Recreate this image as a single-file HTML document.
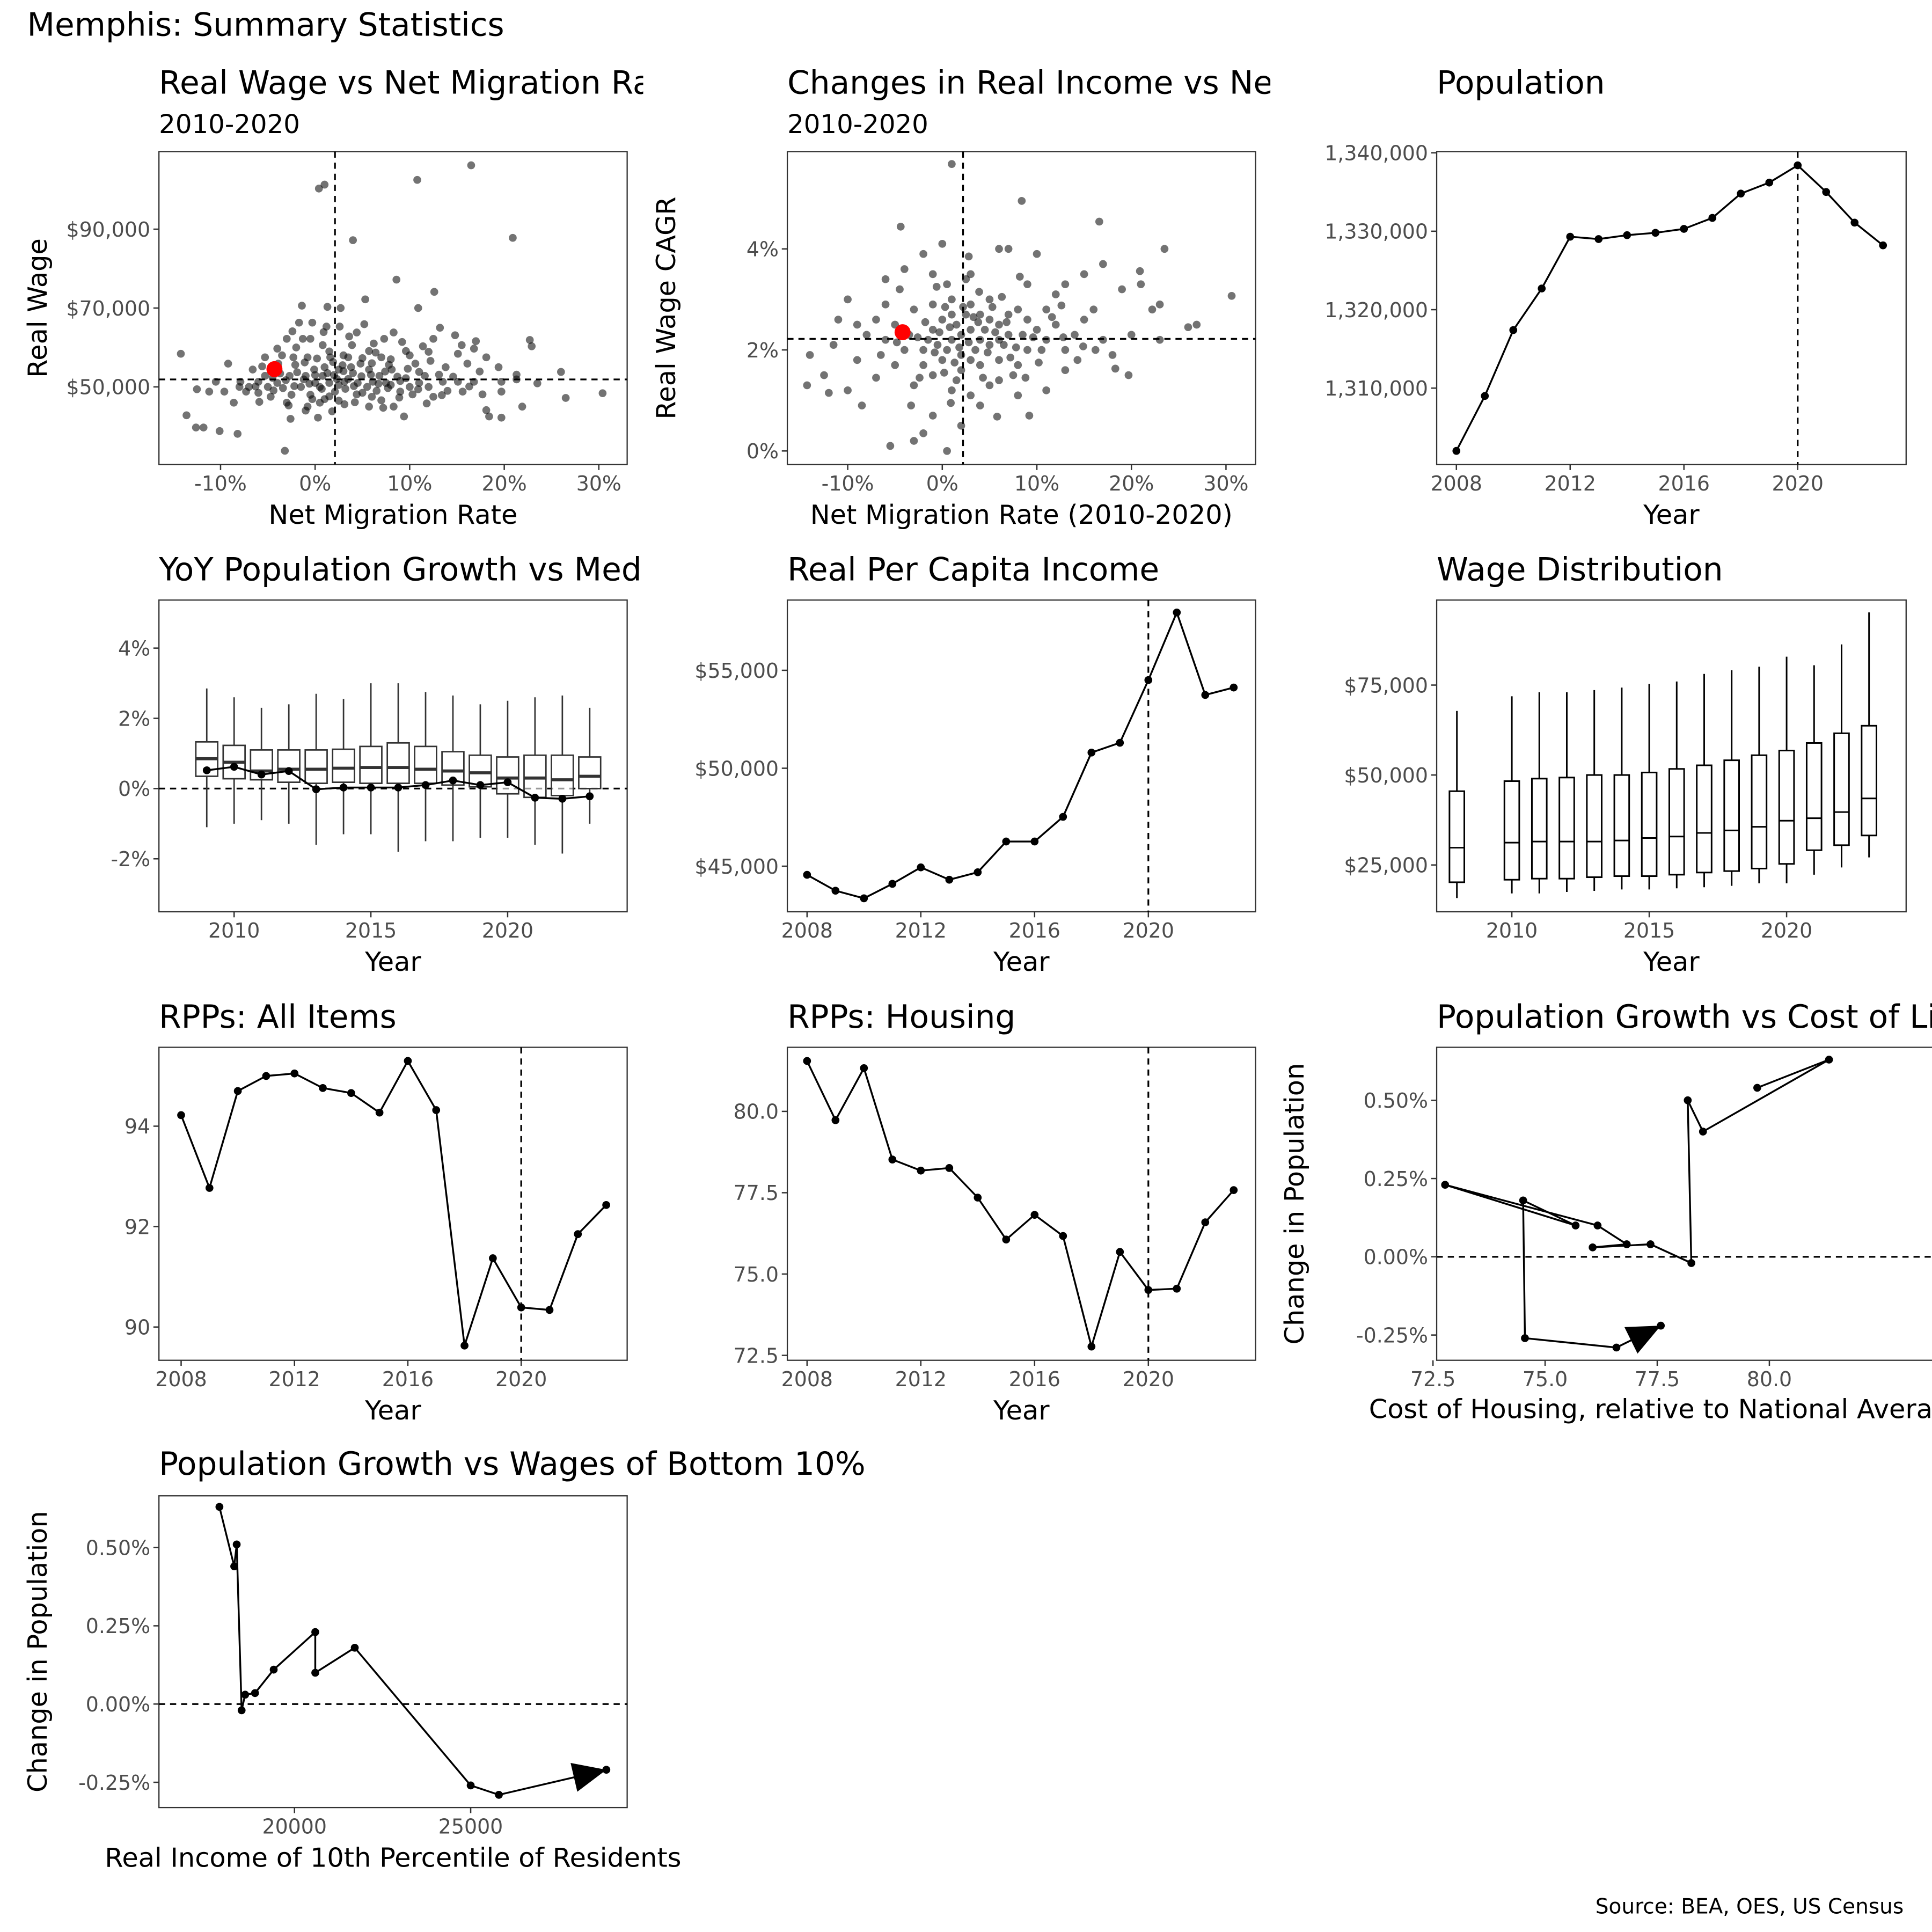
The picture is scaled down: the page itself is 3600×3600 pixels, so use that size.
<!DOCTYPE html>
<html><head><meta charset="utf-8">
<style>
html,body{margin:0;padding:0;background:#fff;}
svg{display:block;}
text{font-family:"DejaVu Sans","Liberation Sans",sans-serif;}
</style></head>
<body>
<svg id="chart" width="3600" height="3600" viewBox="0 0 1568 1568" xmlns="http://www.w3.org/2000/svg">
<defs>
<clipPath id="clipT1"><rect x="0" y="40" width="522" height="80"/></clipPath>
<clipPath id="clipT2"><rect x="530" y="40" width="501" height="80"/></clipPath>
<clipPath id="clipT4"><rect x="0" y="440" width="522" height="47"/></clipPath>
</defs>
<rect x="0" y="0" width="1568" height="1568" fill="#fff"/>
<text x="22" y="29" font-size="26" fill="#000">Memphis: Summary Statistics</text>
<text x="1545" y="1553" font-size="17" fill="#000" text-anchor="end">Source: BEA, OES, US Census</text>
</svg>
<script>
// ---------- DATA ----------
const years = [2008,2009,2010,2011,2012,2013,2014,2015,2016,2017,2018,2019,2020,2021,2022,2023];
const population = [1302000,1309000,1317400,1322700,1329300,1329000,1329500,1329800,1330300,1331700,1334800,1336200,1338400,1335000,1331100,1328200];
const perCapitaIncome = [44560,43750,43360,44100,44940,44310,44690,46260,46260,47520,50800,51300,54500,57950,53740,54120];
const rppAll = [94.22,92.77,94.70,95.00,95.05,94.76,94.66,94.27,95.30,94.32,89.63,91.37,90.39,90.34,91.85,92.43];
const rppHousing = [81.55,79.73,81.33,78.52,78.18,78.26,77.35,76.06,76.82,76.17,72.77,75.68,74.51,74.55,76.59,77.58];

const yoyYears = [2009,2010,2011,2012,2013,2014,2015,2016,2017,2018,2019,2020,2021,2022,2023];
const yoyLow = [-1.1,-1.0,-0.9,-1.0,-1.6,-1.3,-1.3,-1.8,-1.5,-1.5,-1.4,-1.4,-1.6,-1.85,-1.0];
const yoyQ1 = [0.35,0.28,0.25,0.18,0.15,0.18,0.15,0.15,0.15,0.10,0.05,-0.15,-0.25,-0.20,0.0];
const yoyMed = [0.85,0.75,0.50,0.55,0.55,0.58,0.60,0.60,0.55,0.50,0.45,0.30,0.30,0.25,0.35];
const yoyQ3 = [1.33,1.23,1.10,1.10,1.10,1.12,1.20,1.30,1.20,1.05,0.95,0.90,0.95,0.95,0.90];
const yoyHigh = [2.85,2.60,2.30,2.40,2.70,2.55,3.00,3.00,2.75,2.65,2.40,2.50,2.60,2.65,2.30];
const yoyMemphis = [0.52,0.62,0.40,0.50,-0.02,0.03,0.03,0.03,0.10,0.23,0.10,0.18,-0.26,-0.29,-0.22];

const wageYears = [2008,2010,2011,2012,2013,2014,2015,2016,2017,2018,2019,2020,2021,2022,2023];
const wageLow = [15.8,17.1,17.1,17.5,17.8,18.2,18.2,18.5,18.8,19.2,19.9,19.9,22.3,24.3,27.1];
const wageQ1 = [20.2,20.9,21.2,21.2,21.6,21.9,21.9,22.3,22.9,23.3,24.0,25.3,29.1,30.5,33.2];
const wageMed = [29.8,31.2,31.5,31.5,31.5,31.8,32.5,32.9,33.9,34.6,35.6,37.3,38.0,39.7,43.5];
const wageQ3 = [45.5,48.3,49.0,49.3,50.0,50.0,50.7,51.7,52.7,54.1,55.5,56.8,58.9,61.6,63.7];
const wageHigh = [67.8,71.9,73.0,73.0,73.6,74.3,75.3,76.0,78.1,79.1,80.1,82.9,80.5,86.3,95.2];

const costHousing = [79.73,81.33,78.52,78.18,78.26,77.35,76.06,76.82,76.17,72.77,75.68,74.51,74.55,76.59,77.58];
const popGrowth9 = [0.54,0.63,0.40,0.50,-0.02,0.04,0.03,0.04,0.10,0.23,0.10,0.18,-0.26,-0.29,-0.22];

const income10 = [17870,18290,18360,18500,18600,18880,19410,20590,20590,21710,25000,25800,28850];
const popGrowth10 = [0.63,0.44,0.51,-0.02,0.03,0.035,0.11,0.23,0.10,0.18,-0.26,-0.29,-0.21];

const p1Points = [[0.4,100.3],[1.0,101.3],[16.5,106.2],[10.8,102.5],[4.0,87.2],[20.9,87.8],[8.6,77.2],[12.6,74.1],[5.3,72.2],[1.3,70.3],[10.9,70],[22.7,61.9],[22.9,60.3],[-14.2,58.4],[30.4,48.4],[26.5,47.2],[26.0,53.8],[23.5,50.9],[18.4,42.5],[18.1,44.1],[-13.6,42.8],[-12.6,39.7],[-11.8,39.7],[-10.1,38.8],[-8.2,38.1],[-3.2,33.8],[-2.6,41.9],[19.7,42.2],[21.3,53.1],[17.0,61.6],[15.1,58.4],[16.1,55.9],[13.2,65],[14.8,63.1],[16.8,59.7],[11.4,60.3],[12.5,62.2],[15.6,48.8],[10.9,49.4],[8.1,54.4],[9.6,52.2],[7.0,57.5],[6.1,51.3],[4.4,63.8],[5.2,65.9],[2.6,65.3],[3.9,60.6],[2.5,54.4],[1.0,46.9],[-0.8,45],[-2.1,55.6],[-3.4,49.7],[-4.7,47.5],[-6.0,51.3],[-7.3,48.8],[-8.6,46],[-9.6,48.8],[-10.5,51.3],[-6.6,54.4],[-5.3,57.5],[-4.0,59.7],[-1.3,62.2],[-1.7,66.3],[-1.4,70.6],[-0.3,66.3],[0.8,60.6],[1.6,57.5],[3.1,51.3],[4.4,48.1],[5.7,45],[7.0,46.6],[8.3,45],[9.4,42.5],[10.3,48.1],[11.6,52.8],[12.5,47.5],[13.5,51.3],[15.1,51.3],[16.8,51.3],[17.7,48.1],[19.4,55],[19.7,48.8],[21.3,51.9],[21.9,45],[3.1,45.6],[1.8,43.8],[0.3,42.2],[-1,52.8],[-2.7,52.8],[-3.9,55.9],[-5.3,52.8],[-7.9,51.3],[-9.2,55.9],[-11.2,48.8],[-12.5,49.4],[-3,62.2],[-2.3,57.5],[-0.8,57.5],[-0.1,54.4],[0.8,52.8],[2.1,48.8],[3.5,57.5],[4.8,55.9],[5.7,54.4],[6.8,52.8],[7.7,49.7],[9.0,48.8],[10.6,55.9],[12.2,56.6],[13.8,55],[15.5,60.6],[18.1,57.5],[19.7,51.3],[5.7,59.1],[7.3,62.2],[8.3,63.8],[9.6,59.1],[1.2,65.3],[2.7,70],[-0.5,62.2],[0.5,50],[1.5,51],[2.5,50.5],[3.5,52],[4.5,51],[5.5,50],[6.5,49],[7.5,51],[-1.5,50],[-2.5,48],[-0.5,48],[0,53],[1,55],[2,53],[3,54],[4,53.5],[5,48.5],[6,47.5],[8,50.5],[9,51.5],[10,50],[11,51],[12,50],[14,49],[-4,51],[-5,50],[-6,48.5],[-7,50],[-8,50],[-3,46],[-1,44],[0.5,46],[2.5,46.5],[6,56],[8,57],[10,58],[-2,60],[-3.5,58],[1.5,59],[3,58],[0,51],[0.7,49.5],[1.3,53.5],[2.3,52],[3.2,49.5],[4.1,50.2],[4.9,52.7],[5.9,53.1],[6.7,50.8],[7.4,53.9],[8.7,52.6],[9.8,54.6],[11.0,53.8],[13.1,53.1],[-0.6,50.8],[-1.2,51.9],[-1.9,53.7],[-2.2,50.2],[-3.1,51.7],[-3.7,53.4],[-4.5,52.3],[-5.6,55.2],[-6.3,50.1],[-1.1,56.2],[0.2,57.2],[1.9,56.3],[2.9,55.5],[3.8,55.0],[5.0,57.3],[6.4,58.7],[7.8,55.6],[8.9,47.3],[7.2,44.7],[4.2,46.1],[1.5,47.6],[-0.3,46.9],[-2.8,45.3],[-4.4,49.1],[-5.9,46.2],[11.8,45.8],[13.4,47.9],[14.6,52.6],[16.3,50.1],[17.4,53.9],[12.0,58.9],[9.2,61.4],[6.2,61.0],[3.6,62.8],[0.9,63.9],[-2.4,64.1]];
const p1Memphis = [-4.3,54.5];

const p2Points = [[1.0,5.68],[8.4,4.95],[-4.4,4.44],[16.6,4.54],[30.6,3.07],[23.5,4.0],[0.5,0.0],[-5.5,0.1],[-3,0.2],[5.8,0.68],[9.2,0.7],[-14.3,1.3],[-12,1.15],[-10,1.2],[26.9,2.5],[26,2.45],[19.7,1.5],[18.3,1.63],[14.9,2.07],[20.9,3.56],[22.2,2.8],[12.6,2.88],[21,3.3],[-1,0.7],[-2,0.35],[2,0.5],[4,0.9],[-7,1.45],[-11.5,2.1],[-9,1.8],[-12.5,1.5],[-14,1.9],[-4,3.6],[-2,3.9],[-4.5,3.2],[-6,2.9],[0,4.1],[3,3.5],[6,4.0],[7,4.0],[10,3.9],[12,3.1],[13,3.3],[15,3.5],[17,3.7],[16,2.8],[19,3.2],[20,2.3],[23,2.9],[23,2.2],[11,1.2],[13,1.6],[8,1.1],[6,1.4],[3,1.1],[1,1.2],[-1,1.5],[-3,1.3],[-5,1.7],[-6.5,1.9],[-8,2.3],[-2,2.0],[-1,2.4],[0,2.6],[1,2.2],[2,1.9],[3,2.4],[4,2.7],[5,2.1],[6,2.5],[7,2.3],[8,2.8],[9,2.0],[10,2.4],[11,2.2],[-3,2.8],[-1,2.9],[1,3.0],[3,2.9],[5,3.0],[7,2.7],[9,2.6],[0,1.8],[2,1.6],[4,1.7],[6,1.8],[8,1.7],[-2,1.7],[-4,2.0],[-5,2.5],[1,2.7],[2,2.3],[4,2.2],[5,2.6],[-0.5,2.1],[3.5,2.0],[6.5,2.1],[12,2.5],[14,2.3],[15,2.6],[17,2.2],[18,1.9],[-7,2.6],[-9,2.5],[-10,3.0],[-6,3.4],[0.5,3.3],[2.5,3.4],[9,3.3],[11,2.8],[13,2.0],[7.5,1.5],[5,1.3],[1.5,1.4],[-1.5,2.2],[0.5,2.0],[2.5,2.7],[4.5,2.4],[6,2.2],[8.5,2.3],[10.5,2.0],[-3.5,2.3],[1.5,2.5],[3,1.8],[-0.3,2.35],[0.8,2.45],[1.8,2.05],[2.8,2.15],[3.8,2.55],[4.8,1.95],[5.6,2.35],[6.8,2.55],[7.8,2.05],[9.6,2.25],[-1.8,2.55],[-2.6,2.25],[-0.8,1.95],[0.3,2.85],[1.3,1.75],[2.2,2.85],[3.3,2.65],[4.3,1.45],[5.3,2.85],[7.2,1.85],[8.8,1.45],[10.2,1.75],[11.6,2.65],[12.8,2.25],[-4.8,2.15],[-6,2.2],[-2.4,1.45],[0.2,1.55],[3.9,3.15],[6.3,3.05],[8.2,3.45],[-0.6,3.25],[14.3,1.8],[16.2,2.0],[-3.3,0.9],[0.9,0.95],[-8.5,0.9],[-11,2.6],[-1,3.5],[2.8,3.85]];
const p2Memphis = [-4.2,2.35];

const p1XTicks = [-10,0,10,20,30];
const p1YTicks = [50,70,90];
const p2XTicks = [-10,0,10,20,30];
const p2YTicks = [0,2,4];
const p3XTicks = [2008,2012,2016,2020];
const p3YTicks = [1310000,1320000,1330000,1340000];
const p4XTicks = [2010,2015,2020];
const p4YTicks = [-2,0,2,4];
const p5XTicks = [2008,2012,2016,2020];
const p5YTicks = [45000,50000,55000];
const p6XTicks = [2010,2015,2020];
const p6YTicks = [25,50,75];
const p7XTicks = [2008,2012,2016,2020];
const p7YTicks = [90,92,94];
const p8XTicks = [2008,2012,2016,2020];
const p8YTicks = [72.5,75.0,77.5,80.0];
const p9XTicks = [72.5,75.0,77.5,80.0];
const p9YTicks = [-0.25,0,0.25,0.5];
const p10XTicks = [20000,25000];
const p10YTicks = [-0.25,0,0.25,0.5];

// ---------- HELPERS ----------
const NS = "http://www.w3.org/2000/svg";
const svg = document.getElementById('chart');
const TICK_FS = 16.5, AXIS_FS = 21.5, TITLE_FS = 26, SUB_FS = 21;
function mk(tag, attrs, parent){
  const e = document.createElementNS(NS, tag);
  for (const k in attrs) e.setAttribute(k, attrs[k]);
  (parent || svg).appendChild(e);
  return e;
}
function lin(d0,r0,d1,r1){ return v => r0 + (v-d0)*(r1-r0)/(d1-d0); }
const fmtComma = v => Math.round(v).toLocaleString('en-US');
const fmtDollar = v => '$' + fmtComma(v);
const fmtPct0 = v => v + '%';
const fmtPct2 = v => v.toFixed(2) + '%';

function panel(name, r, xs, ys, xt, yt, xf, yf, title, sub, xlab, ylab, clip){
  const g = mk('g', {});
  
  
  const bg = mk('rect', {x:r.x, y:r.y, width:r.w, height:r.h, fill:'#fff', stroke:'#333', 'stroke-width':1}, g);
  
  
  const tg = mk('g', clip ? {'clip-path':'url(#'+clip+')'} : {}, g);
  const t = mk('text', {x:r.x, y:r.ty, 'font-size':TITLE_FS, fill:'#000'}, tg);
  t.textContent = title;
  
  
  if (sub) {
    const s = mk('text', {x:r.x, y:r.y-15, 'font-size':SUB_FS, fill:'#000'}, g);
    s.textContent = sub;
    
    
  }
  xt.forEach(v => {
    const px = xs(v);
    const tk = mk('line', {x1:px, x2:px, y1:r.y+r.h, y2:r.y+r.h+4.5, stroke:'#333', 'stroke-width':1.1}, g);
    
    
    const tl = mk('text', {x:px, y:r.y+r.h+21, 'font-size':TICK_FS, fill:'#4d4d4d', 'text-anchor':'middle'}, g);
    tl.textContent = xf(v);
    
    
  });
  yt.forEach(v => {
    const py = ys(v);
    const tk = mk('line', {x1:r.x-4.5, x2:r.x, y1:py, y2:py, stroke:'#333', 'stroke-width':1.1}, g);
    
    
    const tl = mk('text', {x:r.x-7, y:py+6, 'font-size':TICK_FS, fill:'#4d4d4d', 'text-anchor':'end'}, g);
    tl.textContent = yf(v);
    
    
  });
  if (xlab) {
    const xl = mk('text', {x:r.x+r.w/2, y:r.y+r.h+48, 'font-size':AXIS_FS, fill:'#000', 'text-anchor':'middle'}, g);
    xl.textContent = xlab;
    
    
  }
  if (ylab) {
    const cx = r.yl, cy = r.y + r.h/2;
    const yl = mk('text', {x:cx, y:cy, 'font-size':AXIS_FS, fill:'#000', 'text-anchor':'middle', transform:'rotate(-90 '+cx+' '+cy+')'}, g);
    yl.textContent = ylab;
    
    
  }
  return g;
}
function dashV(g, r, px){
  const l = mk('line', {x1:px, x2:px, y1:r.y, y2:r.y+r.h, stroke:'#000', 'stroke-width':1.4, 'stroke-dasharray':'5,4'}, g);
  
  
}
function dashH(g, r, py){
  const l = mk('line', {x1:r.x, x2:r.x+r.w, y1:py, y2:py, stroke:'#000', 'stroke-width':1.4, 'stroke-dasharray':'5,4'}, g);
  
  
}
function lineSeries(g, xsArr, ysArr, xs, ys, name, arrow){
  const d = xsArr.map((v,i) => (i?'L':'M') + xs(v).toFixed(2) + ',' + ys(ysArr[i]).toFixed(2)).join(' ');
  const p = mk('path', {d:d, fill:'none', stroke:'#000', 'stroke-width':1.5}, g);
  
  
  xsArr.forEach((v,i) => {
    const c = mk('circle', {cx:xs(v), cy:ys(ysArr[i]), r:3.2, fill:'#000'}, g);
    
    
  });
  if (arrow) {
    const n = xsArr.length;
    const x0 = xs(xsArr[n-2]), y0 = ys(ysArr[n-2]), x1 = xs(xsArr[n-1]), y1 = ys(ysArr[n-1]);
    const len = Math.hypot(x1-x0, y1-y0), ux = (x1-x0)/len, uy = (y1-y0)/len;
    const L = 27, W = 12;
    const bx = x1 - ux*L, by = y1 - uy*L;
    const tri = mk('polygon', {points: x1+','+y1+' '+(bx - uy*W)+','+(by + ux*W)+' '+(bx + uy*W)+','+(by - ux*W), fill:'#000'}, g);
    
    
  }
}

// ---------- PANEL 1 ----------
{
  const r = {x:129, y:123, w:380, h:254, yl:38, ty:76};
  const xs = lin(-10,179,30,486), ys = lin(50,314,90,186);
  const g = panel('real-wage-vs-migration', r, xs, ys, p1XTicks, p1YTicks, fmtPct0, v=>fmtDollar(v*1000), 'Real Wage vs Net Migration Rate', '2010-2020', 'Net Migration Rate', 'Real Wage', 'clipT1');
  p1Points.forEach(p => {
    const c = mk('circle', {cx:xs(p[0]), cy:ys(p[1]), r:3.2, fill:'#000', 'fill-opacity':0.55}, g);
    
    
  });
  dashV(g, r, xs(2.1)); dashH(g, r, ys(51.9));
  const m = mk('circle', {cx:xs(p1Memphis[0]), cy:ys(p1Memphis[1]), r:6.5, fill:'#ff0000'}, g);
  
  
}
// ---------- PANEL 2 ----------
{
  const r = {x:639, y:123, w:380, h:254, yl:548, ty:76};
  const xs = lin(-10,688,30,995), ys = lin(0,366,4,202);
  const g = panel('real-income-change-vs-migration', r, xs, ys, p2XTicks, p2YTicks, fmtPct0, fmtPct0, 'Changes in Real Income vs Net Migration', '2010-2020', 'Net Migration Rate (2010-2020)', 'Real Wage CAGR', 'clipT2');
  p2Points.forEach(p => {
    const c = mk('circle', {cx:xs(p[0]), cy:ys(p[1]), r:3.2, fill:'#000', 'fill-opacity':0.55}, g);
    
    
  });
  dashV(g, r, xs(2.2)); dashH(g, r, ys(2.22));
  const m = mk('circle', {cx:xs(p2Memphis[0]), cy:ys(p2Memphis[1]), r:6.5, fill:'#ff0000'}, g);
  
  
}
// ---------- PANEL 3 ----------
{
  const r = {x:1166, y:123, w:381, h:254, ty:76};
  const xs = lin(2008,1182,2020,1459), ys = lin(1310000,315,1340000,124);
  const g = panel('population', r, xs, ys, p3XTicks, p3YTicks, String, fmtComma, 'Population', null, 'Year', null);
  dashV(g, r, xs(2020));
  lineSeries(g, years, population, xs, ys, 'population');
}
// ---------- PANEL 4 ----------
{
  const r = {x:129, y:487, w:380, h:253, ty:471};
  const xs = lin(2010,190,2020,412), ys = lin(0,640,4,526);
  const g = panel('yoy-population-growth', r, xs, ys, p4XTicks, p4YTicks, String, fmtPct0, 'YoY Population Growth vs Median', null, 'Year', null, 'clipT4');
  dashH(g, r, ys(0));
  yoyYears.forEach((yr,i) => {
    const x0 = xs(yr-0.4), x1 = xs(yr+0.4), xc = xs(yr);
    const w1 = mk('line', {x1:xc, x2:xc, y1:ys(yoyHigh[i]), y2:ys(yoyQ3[i]), stroke:'#333', 'stroke-width':1.2}, g);
    
    
    const w2 = mk('line', {x1:xc, x2:xc, y1:ys(yoyQ1[i]), y2:ys(yoyLow[i]), stroke:'#333', 'stroke-width':1.2}, g);
    
    
    const b = mk('rect', {x:x0, y:ys(yoyQ3[i]), width:x1-x0, height:ys(yoyQ1[i])-ys(yoyQ3[i]), fill:'#fff', 'fill-opacity':0.6, stroke:'#333', 'stroke-width':1.2}, g);
    
    
    const md = mk('line', {x1:x0, x2:x1, y1:ys(yoyMed[i]), y2:ys(yoyMed[i]), stroke:'#333', 'stroke-width':2.5}, g);
    
    
  });
  lineSeries(g, yoyYears, yoyMemphis, xs, ys, 'memphis-growth');
}
// ---------- PANEL 5 ----------
{
  const r = {x:639, y:487, w:380, h:253, ty:471};
  const xs = lin(2008,655,2020,932), ys = lin(45000,703,55000,544);
  const g = panel('real-per-capita-income', r, xs, ys, p5XTicks, p5YTicks, String, fmtDollar, 'Real Per Capita Income', null, 'Year', null);
  dashV(g, r, xs(2020));
  lineSeries(g, years, perCapitaIncome, xs, ys, 'income');
}
// ---------- PANEL 6 ----------
{
  const r = {x:1166, y:487, w:381, h:253, ty:471};
  const xs = lin(2010,1227,2020,1450), ys = lin(25,702,75,556);
  const g = panel('wage-distribution', r, xs, ys, p6XTicks, p6YTicks, String, v=>fmtDollar(v*1000), 'Wage Distribution', null, 'Year', null);
  wageYears.forEach((yr,i) => {
    const x0 = xs(yr-0.27), x1 = xs(yr+0.27), xc = xs(yr);
    const w1 = mk('line', {x1:xc, x2:xc, y1:ys(wageHigh[i]), y2:ys(wageLow[i]), stroke:'#000', 'stroke-width':1.3}, g);
    
    
    const b = mk('rect', {x:x0, y:ys(wageQ3[i]), width:x1-x0, height:ys(wageQ1[i])-ys(wageQ3[i]), fill:'#fff', stroke:'#000', 'stroke-width':1.3}, g);
    
    
    const md = mk('line', {x1:x0, x2:x1, y1:ys(wageMed[i]), y2:ys(wageMed[i]), stroke:'#000', 'stroke-width':1.3}, g);
    
    
  });
}
// ---------- PANEL 7 ----------
{
  const r = {x:129, y:850, w:380, h:254, ty:834};
  const xs = lin(2008,147,2020,423), ys = lin(90,1077,94,914);
  const g = panel('rpp-all-items', r, xs, ys, p7XTicks, p7YTicks, String, String, 'RPPs: All Items', null, 'Year', null);
  dashV(g, r, xs(2020));
  lineSeries(g, years, rppAll, xs, ys, 'rpp-all');
}
// ---------- PANEL 8 ----------
{
  const r = {x:639, y:850, w:380, h:254, ty:834};
  const xs = lin(2008,655,2020,932), ys = lin(72.5,1100,80,902);
  const g = panel('rpp-housing', r, xs, ys, p8XTicks, p8YTicks, String, v=>v.toFixed(1), 'RPPs: Housing', null, 'Year', null);
  dashV(g, r, xs(2020));
  lineSeries(g, years, rppHousing, xs, ys, 'rpp-housing');
}
// ---------- PANEL 9 ----------
{
  const r = {x:1166, y:850, w:420, h:254, yl:1058, ty:834};
  const xs = lin(72.5,1163,80,1436), ys = lin(0,1020,0.5,893);
  const g = panel('growth-vs-housing-cost', r, xs, ys, p9XTicks, p9YTicks, v=>v.toFixed(1), fmtPct2, 'Population Growth vs Cost of Living', null, null, 'Change in Population');
  const xl = mk('text', {x:1111, y:1151, 'font-size':AXIS_FS, fill:'#000'}, g);
  xl.textContent = 'Cost of Housing, relative to National Average';
  
  
  dashH(g, r, ys(0));
  lineSeries(g, costHousing, popGrowth9, xs, ys, 'growth-housing', true);
}
// ---------- PANEL 10 ----------
{
  const r = {x:129, y:1214, w:380, h:253, yl:38, ty:1197};
  const xs = lin(20000,239,25000,382), ys = lin(0,1383,0.5,1256);
  const g = panel('growth-vs-bottom-wages', r, xs, ys, p10XTicks, p10YTicks, String, fmtPct2, 'Population Growth vs Wages of Bottom 10%', null, 'Real Income of 10th Percentile of Residents', 'Change in Population');
  dashH(g, r, ys(0));
  lineSeries(g, income10, popGrowth10, xs, ys, 'growth-income', true);
}
</script>
</body></html>
